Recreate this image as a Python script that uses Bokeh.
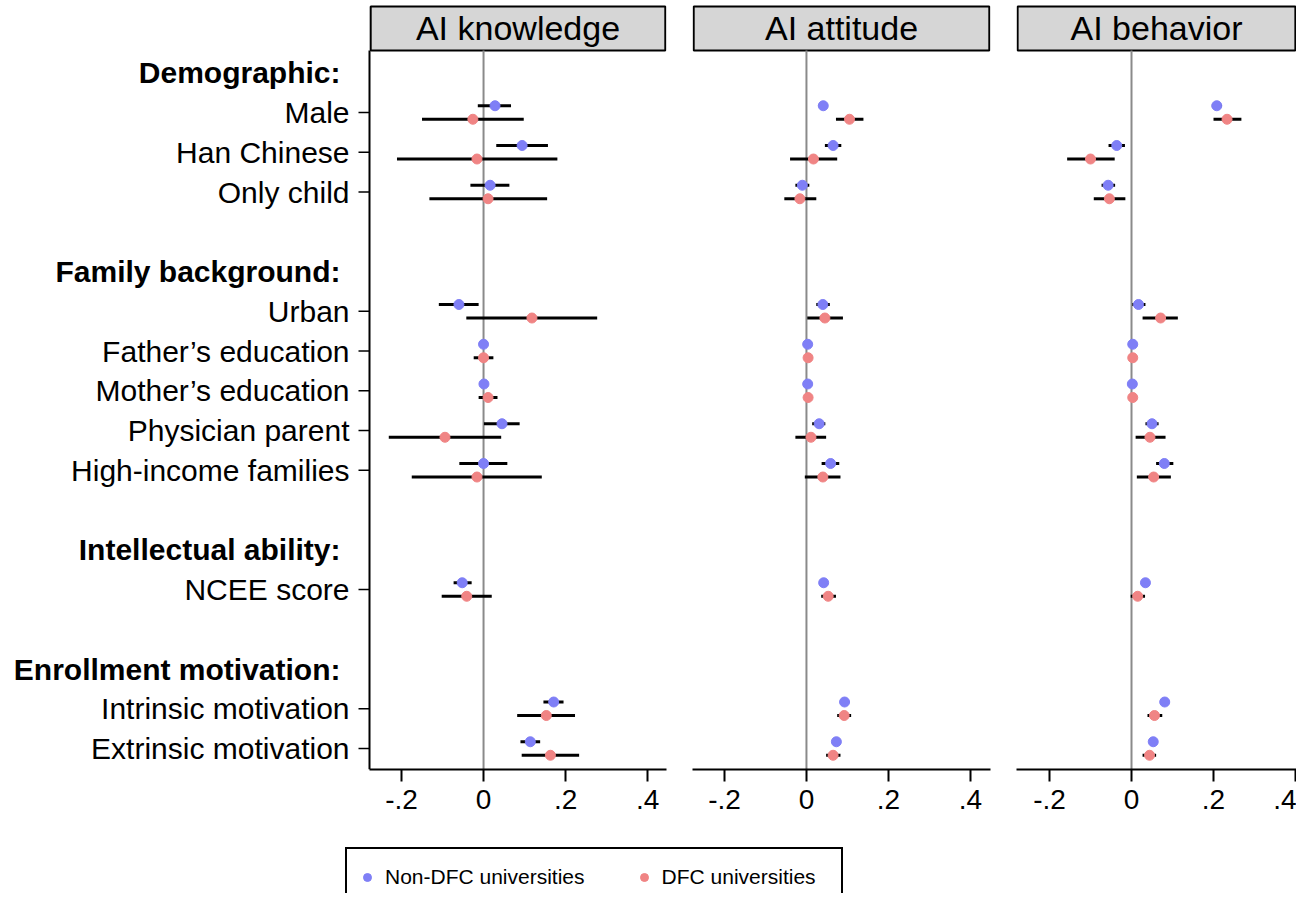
from bokeh.plotting import figure
from bokeh.models import Range1d, FixedTicker, Legend, LegendItem
from bokeh.layouts import row, column
from bokeh.core.properties import value
from bokeh.embed import file_html
from bokeh.resources import INLINE

FONT = "Liberation Sans"

# ---------------- data ----------------
LABELS = ["Male", "Han Chinese", "Only child",
          "Urban", "Father\u2019s education", "Mother\u2019s education",
          "Physician parent", "High-income families",
          "NCEE score",
          "Intrinsic motivation", "Extrinsic motivation"]
ROWS = [1, 2, 3, 6, 7, 8, 9, 10, 13, 16, 17]
GROUPS = ["Demographic:", "Family background:", "Intellectual ability:", "Enrollment motivation:"]
GROUP_ROWS = [0, 5, 12, 15]
PANELS = ["AI knowledge", "AI attitude", "AI behavior"]
SERIES = ["Non-DFC universities", "DFC universities"]
XTICKS = [-0.2, 0, 0.2, 0.4]
XTICK_LABELS = ["-.2", "0", ".2", ".4"]

# AI knowledge
know_nondfc_est = [0.028, 0.094, 0.016, -0.060, 0.000, 0.001, 0.045, 0.000, -0.052, 0.171, 0.114]
know_nondfc_lo = [-0.014, 0.031, -0.032, -0.109, -0.004, -0.003, 0.001, -0.059, -0.073, 0.146, 0.090]
know_nondfc_hi = [0.067, 0.157, 0.063, -0.012, 0.004, 0.005, 0.088, 0.058, -0.029, 0.195, 0.138]
know_dfc_est = [-0.026, -0.016, 0.011, 0.118, 0.000, 0.011, -0.094, -0.016, -0.041, 0.153, 0.163]
know_dfc_lo = [-0.150, -0.211, -0.132, -0.042, -0.024, -0.012, -0.231, -0.175, -0.102, 0.082, 0.093]
know_dfc_hi = [0.098, 0.180, 0.155, 0.277, 0.024, 0.034, 0.043, 0.142, 0.020, 0.223, 0.233]

# AI attitude
att_nondfc_est = [0.041, 0.065, -0.010, 0.040, 0.003, 0.003, 0.031, 0.059, 0.042, 0.093, 0.073]
att_nondfc_lo = [0.030, 0.045, -0.027, 0.024, 0.000, 0.000, 0.014, 0.037, 0.034, 0.085, 0.065]
att_nondfc_hi = [0.052, 0.085, 0.007, 0.057, 0.006, 0.006, 0.046, 0.080, 0.050, 0.101, 0.081]
att_dfc_est = [0.105, 0.017, -0.016, 0.045, 0.004, 0.004, 0.011, 0.040, 0.053, 0.092, 0.065]
att_dfc_lo = [0.072, -0.040, -0.054, 0.002, 0.000, 0.000, -0.027, -0.004, 0.036, 0.075, 0.048]
att_dfc_hi = [0.139, 0.075, 0.024, 0.089, 0.008, 0.008, 0.048, 0.083, 0.072, 0.109, 0.083]

# AI behavior
beh_nondfc_est = [0.208, -0.036, -0.057, 0.017, 0.003, 0.002, 0.050, 0.080, 0.034, 0.081, 0.053]
beh_nondfc_lo = [0.196, -0.056, -0.073, 0.002, 0.000, -0.001, 0.034, 0.060, 0.027, 0.074, 0.046]
beh_nondfc_hi = [0.220, -0.016, -0.040, 0.034, 0.006, 0.005, 0.066, 0.102, 0.041, 0.088, 0.060]
beh_dfc_est = [0.233, -0.100, -0.054, 0.071, 0.003, 0.003, 0.045, 0.054, 0.015, 0.056, 0.044]
beh_dfc_lo = [0.200, -0.157, -0.092, 0.027, 0.000, 0.000, 0.010, 0.013, -0.002, 0.039, 0.027]
beh_dfc_hi = [0.268, -0.041, -0.015, 0.113, 0.006, 0.006, 0.083, 0.096, 0.033, 0.075, 0.060]

PANEL_DATA = [
    [(know_nondfc_est, know_nondfc_lo, know_nondfc_hi), (know_dfc_est, know_dfc_lo, know_dfc_hi)],
    [(att_nondfc_est, att_nondfc_lo, att_nondfc_hi), (att_dfc_est, att_dfc_lo, att_dfc_hi)],
    [(beh_nondfc_est, beh_nondfc_lo, beh_nondfc_hi), (beh_dfc_est, beh_dfc_lo, beh_dfc_hi)],
]

# ---------------- style / layout ----------------
COLORS = ["#7f7ff6", "#f08484"]
OFFSETS = [-0.17, 0.17]
Y_TOP, Y_BOT = -1.717, 17.528
BOX_TOP, BOX_BOTTOM = -1.667, -0.56
X_PANEL = [(-0.278, 0.446), (-0.278, 0.449), (-0.2805, 0.4024)]
# (width, border_left, border_right) in px
GEOM = [(680, 369, 14), (322, 12, 12), (294, 14, 0)]
ROW_H = 830
PX_PER_UNIT = 297 / (0.446 + 0.278)

panels = []
for k in range(3):
    w, bl, br = GEOM[k]
    x0, x1 = X_PANEL[k]
    if k == 0:
        # frame extends to the left edge so the label column lives inside it
        xr = Range1d(x0 - bl / PX_PER_UNIT, x1)
        mbl = 0
    else:
        xr = Range1d(x0, x1)
        mbl = bl
    p = figure(width=w, height=ROW_H, output_backend="svg", toolbar_location=None,
               x_range=xr, y_range=Range1d(Y_BOT, Y_TOP),
               y_axis_location=None,
               min_border_left=mbl, min_border_right=br,
               min_border_top=4, min_border_bottom=ROW_H - 4 - 765)
    p.outline_line_color = None
    p.xgrid.visible = False
    p.ygrid.visible = False
    p.background_fill_color = "white"
    p.border_fill_color = "white"

    # x axis
    xa = p.xaxis[0]
    xa.ticker = FixedTicker(ticks=XTICKS)
    xa.major_label_overrides = {t: s for t, s in zip(XTICKS, XTICK_LABELS)}
    xa.bounds = (x0, x1)
    xa.axis_line_width = 2
    xa.axis_line_color = "black"
    xa.major_tick_line_width = 2
    xa.major_tick_out = 12
    xa.major_tick_in = 0
    xa.minor_tick_out = 0
    xa.minor_tick_in = 0
    xa.major_label_standoff = 8
    xa.major_label_text_font = FONT
    xa.major_label_text_font_size = "28px"
    xa.major_label_text_color = "black"

    if k == 0:
        tick_len = 11 / PX_PER_UNIT
        # y axis line and ticks
        p.segment(x0=[x0], y0=[BOX_BOTTOM], x1=[x0], y1=[Y_BOT], line_color="black", line_width=2)
        p.segment(x0=[x0 - tick_len] * len(ROWS), y0=ROWS, x1=[x0] * len(ROWS), y1=ROWS,
                  line_color="black", line_width=1.5)
        p.text(x=[x0] * len(ROWS), y=ROWS, text=LABELS, x_offset=-20,
               text_align="right", text_baseline="middle", text_font=value(FONT),
               text_font_size="30px", text_color="black")
        p.text(x=[x0] * len(GROUPS), y=GROUP_ROWS, text=GROUPS, x_offset=-29,
               text_align="right", text_baseline="middle", text_font=value(FONT),
               text_font_size="30px", text_font_style="bold", text_color="black")

    # strip title box
    eps = (x1 - x0) * 0.004
    p.quad(left=[x0 + eps], right=[x1 - eps], top=[BOX_TOP], bottom=[BOX_BOTTOM],
           fill_color="#d6d6d6", line_color="black", line_width=2)
    p.text(x=[(x0 + x1) / 2], y=[(BOX_TOP + BOX_BOTTOM) / 2], text=[PANELS[k]],
           text_align="center", text_baseline="middle", text_font=value(FONT),
           text_font_size="34px", text_color="black")

    # zero reference line
    p.segment(x0=[0], y0=[BOX_BOTTOM], x1=[0], y1=[Y_BOT], line_color="#8a8a8a", line_width=2)

    for s in range(2):
        est, lo, hi = PANEL_DATA[k][s]
        ys = [r + OFFSETS[s] for r in ROWS]
        p.segment(x0=lo, y0=ys, x1=hi, y1=ys, line_color="black", line_width=3)
    for s in range(2):
        est, lo, hi = PANEL_DATA[k][s]
        ys = [r + OFFSETS[s] for r in ROWS]
        p.scatter(x=est, y=ys, size=10, fill_color=COLORS[s], line_color=COLORS[s])
    panels.append(p)

# legend strip
LEG_H = 893 - ROW_H
pl = figure(width=1296, height=LEG_H, output_backend="svg", toolbar_location=None,
            x_range=Range1d(0, 1), y_range=Range1d(0, 1),
            x_axis_location=None, y_axis_location=None,
            min_border_left=0, min_border_right=0, min_border_top=0, min_border_bottom=0)
pl.outline_line_color = None
pl.xgrid.visible = False
pl.ygrid.visible = False
items = []
for s in range(2):
    # legend-only renderers: their point lies outside the visible range
    r = pl.scatter(x=[5], y=[5], size=8, fill_color=COLORS[s], line_color=COLORS[s])
    items.append(LegendItem(label=SERIES[s], renderers=[r]))
leg = Legend(items=items, orientation="horizontal", location=(345, LEG_H - 21 - 56),
             padding=10, spacing=49, glyph_width=20, glyph_height=36, label_standoff=8,
             label_width=169,
             label_text_font=FONT, label_text_font_size="21px", label_text_color="black",
             border_line_color="black", border_line_width=2, border_line_alpha=1.0,
             background_fill_color="white", background_fill_alpha=1.0, margin=0)
pl.add_layout(leg, "center")

layout = column(row(*panels, spacing=0), pl, spacing=0)
open("out.html", "w").write(file_html(layout, INLINE))
